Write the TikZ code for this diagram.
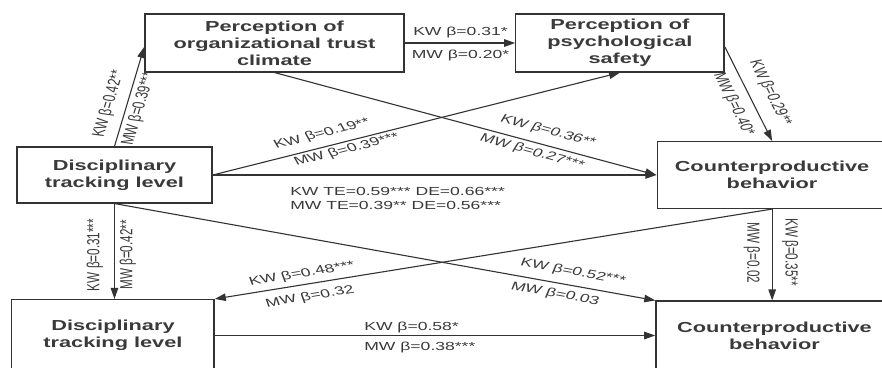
\documentclass[tikz,border=0pt]{standalone}
\usepackage{fontspec}
\setmainfont{Liberation Sans}
\usetikzlibrary{arrows.meta}
\definecolor{ink}{HTML}{333333}
\definecolor{txt}{HTML}{3A3A3A}
\begin{document}
\begin{tikzpicture}[x=1pt,y=-1pt,xscale=1.5,
  every node/.append style={transform shape},
  box/.style={draw=ink, line width=1.1pt, inner sep=0pt, align=center, text=txt,
    font=\fontsize{14.5}{17}\selectfont\bfseries},
  lbl/.style={inner sep=0pt, text=txt, font=\fontsize{11.7}{13}\selectfont},
  conn/.style={draw=ink, line width=1.1pt, -{Triangle[length=11pt,width=7.5pt]}}]
\useasboundingbox (0,0) rectangle (588,367);
\fill[white] (0,0) rectangle (588,367);
\clip (0,0) rectangle (588,367);
% boxes
\node[box, minimum width=172.7pt, minimum height=58pt] (B1) at (183,43)
  {Perception of\\organizational trust\\climate};
\node[box, minimum width=138.7pt, minimum height=58pt] (B2) at (413.3,43)
  {Perception of\\psychological\\safety};
\node[box, minimum width=130pt, minimum height=56pt] (B3) at (76.3,175)
  {Disciplinary\\tracking level};
\node[box, minimum width=153.3pt, minimum height=67pt] (B4) at (514.7,175)
  {Counterproductive\\behavior};
\node[box, minimum width=134.7pt, minimum height=72pt] (B5) at (75.3,335.5)
  {Disciplinary\\tracking level};
\node[box, minimum width=158pt, minimum height=69pt] (B6) at (516.3,335.5)
  {Counterproductive\\behavior};
% connectors
\draw[conn] (B3.north) -- ([yshift=-4pt]B1.west);
\draw[conn] (B1.east) -- (B2.west);
\draw[conn] (B1.south) -- (B4.west);
\draw[conn] (B3.east) -- (B2.south);
\draw[conn] (B3.east) -- (B4.west);
\draw[conn] ([yshift=-4pt]B2.east) -- (B4.north);
\draw[conn] (B4.south) -- (B4.south |- B6.north);
\draw[conn] (B4.south) -- (B5.north east);
\draw[conn] (B3.south) -- (B3.south |- B5.north);
\draw[conn] (B3.south) -- (B6.north west);
\draw[conn] (B5.east) -- (B6.west);
% labels
\node[lbl, rotate=78.5] (l1a) at (72.7,104) {KW β=0.42**};
\node[lbl, rotate=78.5] (l1b) at (92.7,109) {MW β=0.39***};
\node[lbl] (l2a) at (307,32) {KW β=0.31*};
\node[lbl] (l2b) at (307,55) {MW β=0.20*};
\node[lbl, rotate=-22.1] (l3a) at (365.3,131) {KW β=0.36**};
\node[lbl, rotate=-22.1] (l3b) at (354.7,152) {MW β=0.27***};
\node[lbl, rotate=20.7] (l4a) at (214.7,134) {KW β=0.19**};
\node[lbl, rotate=20.7] (l4b) at (231.3,150) {MW β=0.39***};
\node[lbl, anchor=west] (l5a) at (193.3,191) {KW TE=0.59*** DE=0.66***};
\node[lbl, anchor=west] (l5b) at (193.3,205) {MW TE=0.39** DE=0.56***};
\node[lbl, rotate=-71.4] (l6a) at (513.3,92.7) {KW β=0.29**};
\node[lbl, rotate=-71.4] (l6b) at (488.9,104) {MW β=0.40*};
\node[lbl, rotate=-90] (l7a) at (526.7,252) {KW β=0.35**};
\node[lbl, rotate=-90] (l7b) at (501.3,253) {MW β=0.02};
\node[lbl, rotate=13.75] (l8a) at (201.3,274) {KW β=0.48***};
\node[lbl, rotate=13.75] (l8b) at (206.7,297) {MW β=0.32};
\node[lbl, rotate=90] (l9a) at (63.3,255) {KW β=0.31***};
\node[lbl, rotate=90] (l9b) at (85.3,255) {MW β=0.42**};
\node[lbl, rotate=-15.2] (l10a) at (382,272) {KW β=0.52***};
\node[lbl, rotate=-15.2] (l10b) at (370,294) {MW β=0.03};
\node[lbl, anchor=west] (l11a) at (242.7,327) {KW β=0.58*};
\node[lbl, anchor=west] (l11b) at (242.7,347) {MW β=0.38***};
\end{tikzpicture}
\end{document}
